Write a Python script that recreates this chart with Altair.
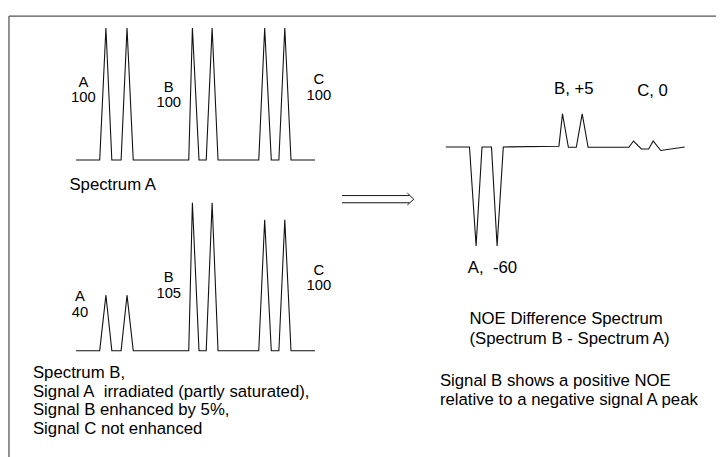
import altair as alt
import pandas as pd

# ---------------- data ----------------
# shared chemical-shift positions of the vertices of spectra A and B
spec_x = [68, 92, 98.3, 104.3, 113.7, 119.7, 126, 182.3, 186, 192.7, 200, 206,
          212, 253.3, 259.3, 266, 273.7, 279.7, 286, 310.3]
# intensities (%) at those vertices
spec_a = [0, 0, 100, 0, 0, 100, 0, 0, 100, 0, 0, 100, 0, 0, 100, 0, 0, 100, 0, 0]
spec_b = [0, 0, 42, 0, 0, 42, 0, 0, 112, 0, 0, 112, 0, 0, 99, 0, 0, 99, 0, 0]
# difference spectrum (B - A)
diff_x = [443, 467, 473.7, 479.7, 489.3, 495, 501.3, 557.7, 561.3, 567.3, 575.3,
          581.3, 587.3, 628.7, 633.3, 641.3, 648.7, 653.3, 661, 685.3]
diff_v = [0, 0, -75, 0, 0, -75, 0, 0.5, 25, -0.2, -0.2, 25, -0.2, -0.2, 4.5,
          -1.5, -1.5, 4.5, -2.7, 0]

peak_labels_a = ["A\n100", "B\n100", "C\n100"]
peak_labels_b = ["A\n40", "B\n105", "C\n100"]
diff_labels = ["A,\u00a0 -60", "B, +5", "C, 0"]
caption_a = ["Spectrum A"]
caption_b = ["Spectrum B,", "Signal A\u00a0 irradiated (partly saturated),",
             "Signal B enhanced by 5%,", "Signal C not enhanced"]
caption_diff = ["NOE Difference Spectrum", "(Spectrum B - Spectrum A)"]
caption_note = ["Signal B shows a positive NOE", "relative to a negative signal A peak"]

# ---------------- layout ----------------
W, H = 709, 441
PXU = 1.34                      # pixels per intensity unit
YMAX = H / PXU
FS = 17


def vy(page_y):
    return (449 - page_y) / PXU


def vx(page_x):
    return page_x - 8


base_a, base_b, base_d = vy(159), vy(352.3), vy(145.7)

rows = []
for name, xs, vals, base in [("A", spec_x, spec_a, base_a),
                             ("B", spec_x, spec_b, base_b),
                             ("D", diff_x, diff_v, base_d)]:
    for i, (x, v) in enumerate(zip(xs, vals)):
        rows.append({"series": name, "order": i, "x": x, "y": base + v})
spec_df = pd.DataFrame(rows)

# arrow (double shaft + head)
arrow_rows = []
for k, pts in enumerate([
    [(345.7, 195), (414, 195)],
    [(345.7, 202.3), (414, 202.3)],
    [(412, 192.5), (418.5, 198.7), (412, 204.5)],
]):
    for i, (px, py) in enumerate(pts):
        arrow_rows.append({"seg": k, "order": i, "x": vx(px), "y": vy(py)})
arrow_df = pd.DataFrame(arrow_rows)

# text labels (position of the first line)
peak_rows = []
pos_a = [(83.5, 79.8), (170, 85.0), (322.3, 77.2)]
pos_b = [(80, 297.4), (170, 277.9), (322.3, 270.7)]
for t, (px, py) in zip(peak_labels_a + peak_labels_b, pos_a + pos_b):
    peak_rows.append({"t": t, "x": vx(px), "y": vy(py)})
peak_df = pd.DataFrame(peak_rows)

text_rows = []
for t, (px, py) in zip(diff_labels, [(473.3, 269), (560.7, 86.7), (645, 89.5)]):
    text_rows.append({"t": t, "x": vx(px), "y": vy(py)})
for t, (px, py) in zip(caption_a, [(69.3, 184.5)]):
    text_rows.append({"t": t, "x": vx(px), "y": vy(py)})
for i, t in enumerate(caption_b):
    text_rows.append({"t": t, "x": vx(32.3), "y": vy(375 + 19 * i)})
for i, t in enumerate(caption_diff):
    text_rows.append({"t": t, "x": vx(475), "y": vy(320 + 20.7 * i)})
for i, t in enumerate(caption_note):
    text_rows.append({"t": t, "x": vx(445), "y": vy(383.3 + 19.4 * i)})
text_df = pd.DataFrame(text_rows)

xs = alt.Scale(domain=[0, W], nice=False, zero=False)
ys = alt.Scale(domain=[0, YMAX], nice=False, zero=False)


def X(f="x"):
    return alt.X(f, type="quantitative", scale=xs, axis=None)


def Y(f="y"):
    return alt.Y(f, type="quantitative", scale=ys, axis=None)


frame_df = pd.DataFrame({"x": [0, 0], "x2": [717, 0], "y": [vy(13), vy(13)], "y2": [vy(13), -10]})
frame = alt.Chart(frame_df).mark_rule(color="#555555", strokeWidth=1.3).encode(
    x=X(), x2="x2", y=Y(), y2="y2")

spectra = alt.Chart(spec_df).mark_line(color="#111111", strokeWidth=1.1).encode(
    x=X(), y=Y(), detail="series:N", order="order:Q")

arrow = alt.Chart(arrow_df).mark_line(color="#111111", strokeWidth=1).encode(
    x=X(), y=Y(), detail="seg:N", order="order:Q")

texts_c = alt.Chart(peak_df).mark_text(
    font="Liberation Sans", fontSize=15, color="black", align="center", baseline="middle",
    lineBreak="\n", lineHeight=15.5
).encode(x=X(), y=Y(), text="t:N")
texts_l = alt.Chart(text_df).mark_text(
    font="Liberation Sans", fontSize=FS, color="black", align="left", baseline="middle"
).encode(x=X(), y=Y(), text="t:N")

chart = alt.layer(frame, spectra, arrow, texts_c, texts_l).properties(
    width=W, height=H, padding=0, background="white"
).configure_view(stroke=None)

chart.save("out.html", embed_options={"renderer": "svg", "actions": False})
